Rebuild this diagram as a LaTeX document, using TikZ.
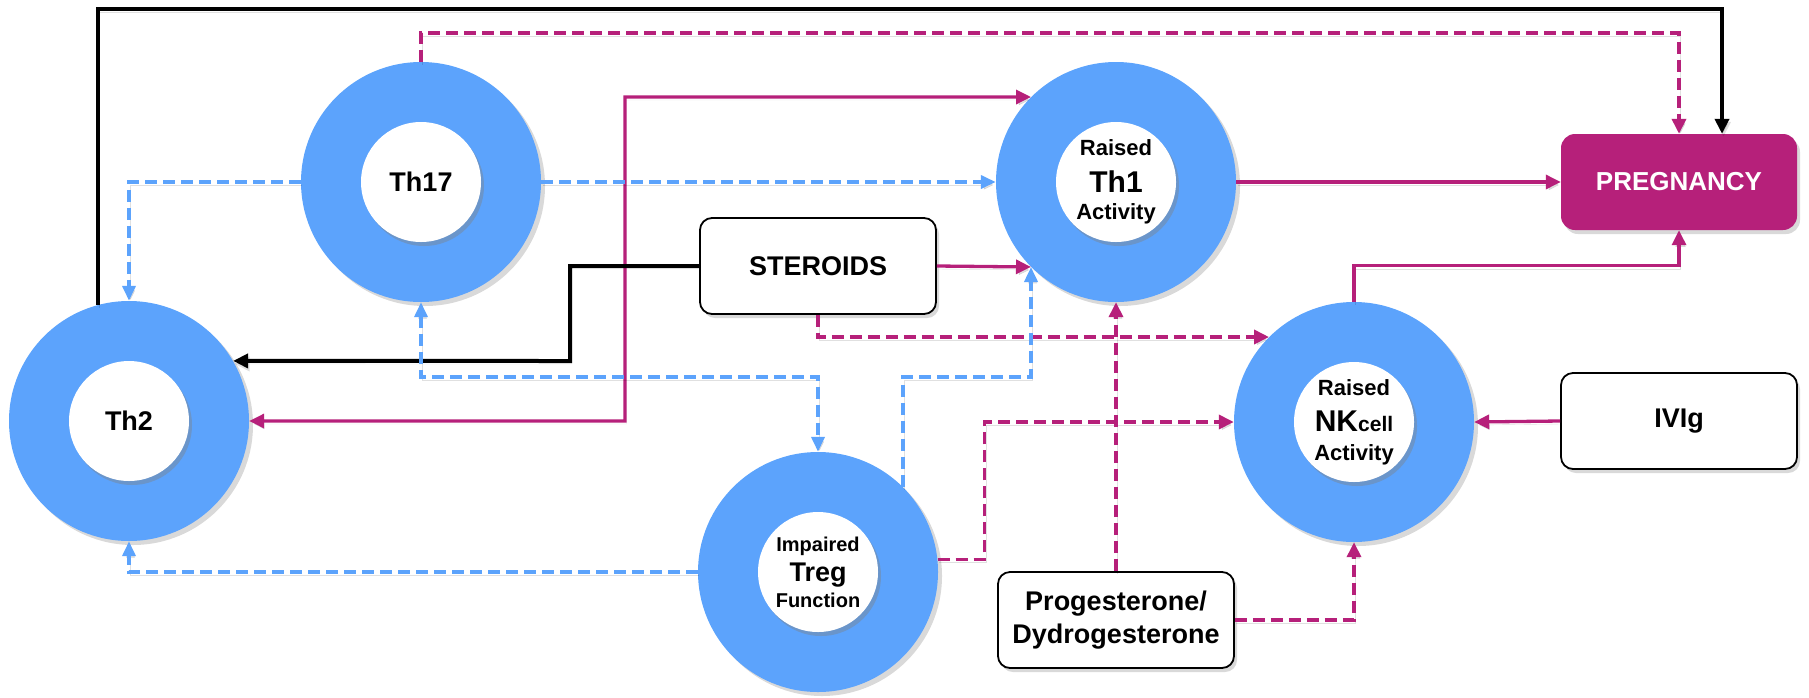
\documentclass[tikz,border=0pt]{standalone}
\usepackage{fontspec}
\setmainfont{Liberation Sans}
\usetikzlibrary{arrows.meta,positioning,shadows}
\definecolor{cellblue}{RGB}{92,163,252}
\definecolor{berry}{RGB}{182,32,122}

\begin{document}
\begin{tikzpicture}[
    x=1pt, y=-1pt,
    every node/.style={font=\bfseries},
    cell/.style={circle, fill=cellblue, minimum size=240pt, inner sep=0pt, drop shadow={opacity=0.3, shadow xshift=4pt, shadow yshift=-4pt}},
    core/.style={circle, fill=white, minimum size=120pt, inner sep=0pt, align=center, drop shadow={opacity=0.4, shadow xshift=3pt, shadow yshift=-4pt}},
    agent/.style={draw, line width=1.8pt, rounded corners=12pt, fill=white, minimum width=236pt, minimum height=96pt, align=center, font=\bfseries\fontsize{27}{33}\selectfont, drop shadow={opacity=0.3, shadow xshift=3pt, shadow yshift=-4pt}},
    goal/.style={rounded corners=14pt, fill=berry, text=white, minimum width=236pt, minimum height=96pt, font=\bfseries\fontsize{26}{32}\selectfont, drop shadow={opacity=0.3, shadow xshift=3pt, shadow yshift=-4pt}},
    shade/.style={preaction={draw=black, opacity=0.12, transform canvas={shift={(1.5pt,-3pt)}}}},
    pinkflow/.style={-{Triangle[length=15pt, width=14pt]}, line width=3.3pt, berry, shade},
    pinkdash/.style={pinkflow, line width=3.6pt, dash pattern=on 12pt off 6pt},
    bluedash/.style={-{Triangle[length=15pt, width=13pt]}, line width=3.6pt, cellblue, dash pattern=on 12pt off 6pt, shade},
    blackflow/.style={-{Triangle[length=15pt, width=14pt]}, line width=4pt, black, shade}
]
\useasboundingbox (0,0) rectangle (1809,697);

\node[cell] (th17) at (421,182) {};
\node[cell] (th1) at (1116,182) {};
\node[cell] (th2) at (129,421) {};
\node[cell] (treg) at (818,572) {};
\node[cell] (nk) at (1354,422) {};
\node[core, font=\bfseries\fontsize{27}{31}\selectfont] (th17-core) at (th17) {Th17};
\node[core, font=\bfseries\fontsize{27}{31}\selectfont] (th2-core) at (th2) {Th2};
\node[core, font=\bfseries\fontsize{22}{27}\selectfont] (th1-core) at (th1) {Raised\\[10pt]{\fontsize{30}{36}\selectfont Th1}\\Activity};
\node[core, font=\bfseries\fontsize{20}{25}\selectfont] (treg-core) at (treg) {Impaired\\[5pt]{\fontsize{27}{31}\selectfont Treg}\\[1pt]Function};
\node[core, font=\bfseries\fontsize{22}{27}\selectfont] (nk-core) at (nk) {Raised\\[9pt]{\fontsize{30}{36}\selectfont NK}{\fontsize{21}{26}\selectfont cell}\\[2pt]Activity};

\node[agent] (steroids) at (818,266) {STEROIDS};
\node[agent] (progest) at (1116,620) {Progesterone/\\Dydrogesterone};
\node[agent] (ivig) at (1679,421) {IVIg};
\node[goal] (preg) at (1679,182) {PREGNANCY};

\coordinate (topblack) at (1722,9);
\coordinate (toppink) at (1679,33);
\coordinate (bendA) at (625,97);
\coordinate (bendB) at (570,361);

\draw[blackflow] (th2.105) |- (topblack) -- (topblack |- preg.north);
\draw[pinkdash] (th17.north) |- (toppink) -- (preg.north);
\draw[pinkflow, {Triangle[length=15pt, width=14pt]}-{Triangle[length=15pt, width=14pt]}] (th2.east) -| (bendA) -- (th1.135);
\draw[bluedash] (th17.west) -| (th2.north);
\draw[bluedash] (th17.east) -- (th1.west);
\draw[blackflow] (steroids.west) -| (bendB) -- (th2.30);
\draw[pinkflow] (steroids.east) -- (th1.225);
\draw[pinkdash] (steroids.south) |- (nk.135);
\draw[bluedash, {Triangle[length=15pt, width=13pt]}-{Triangle[length=15pt, width=13pt]}] (th17.south) -- ++(0,75) -| (treg.north);
\draw[bluedash] (treg.45) -- ++(0,-110) -| (th1.225);
\draw[bluedash] (treg.west) -| (th2.south);
\draw[pinkdash] (treg.6) -- ++(47,0) |- (nk.west);
\draw[pinkdash] (progest.north) -- (th1.south);
\draw[pinkdash] (progest.east) -| (nk.south);
\draw[pinkflow] (nk.north) -- ++(0,-36) -| (preg.south);
\draw[pinkflow] (th1.east) -- (preg.west);
\draw[pinkflow] (ivig.west) -- (nk.east);
\end{tikzpicture}
\end{document}
